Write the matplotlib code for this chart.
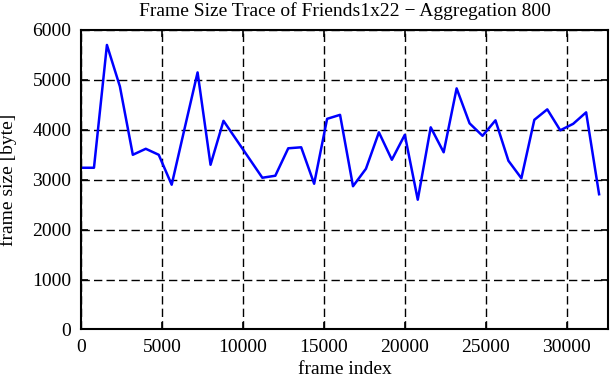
import matplotlib
matplotlib.use("Agg")
import matplotlib.pyplot as plt
import numpy as np

# aggregated frame sizes, one value every 800 frames
frame_step = 800
frame_size = [3240, 3240, 5700, 4870, 3500, 3620, 3500, 2900, 4030, 5150,
              3300, 4180, 3800, 3420, 3040, 3080, 3630, 3650, 2920, 4220,
              4300, 2870, 3220, 3950, 3400, 3900, 2600, 4050, 3550, 4830,
              4130, 3880, 4190, 3380, 3030, 4200, 4410, 3990, 4120, 4350,
              2710]
frame_index = np.arange(len(frame_size)) * frame_step

plt.rcParams['font.family'] = ['Liberation Serif', 'DejaVu Serif']
plt.rcParams['font.size'] = 14

fig = plt.figure(figsize=(6.11, 3.8), dpi=100)
ax = fig.add_axes([0.1326, 0.1329, 0.8630, 0.7882])
ax.plot(frame_index, frame_size, color='#0000ff', lw=1.8)

ax.set_xlim(0, 32570)
ax.set_ylim(0, 6000)
ax.set_xticks(np.arange(0, 30001, 5000))
ax.set_yticks(np.arange(0, 6001, 1000))
ax.grid(True, color='black', ls=(0, (6, 3)), lw=1.0)
ax.tick_params(direction='in', length=5, width=1.2, top=True, right=True, pad=7)
for s in ax.spines.values():
    s.set_linewidth(1.5)

ax.set_title('Frame Size Trace of Friends1x22 \u2212 Aggregation 800', fontsize=14, pad=10)
ax.set_xlabel('frame index', labelpad=3.5)
ax.set_ylabel('frame size [byte]')
ax.yaxis.set_label_coords(-0.122, 0.5)

fig.savefig('out.png', dpi=100)
